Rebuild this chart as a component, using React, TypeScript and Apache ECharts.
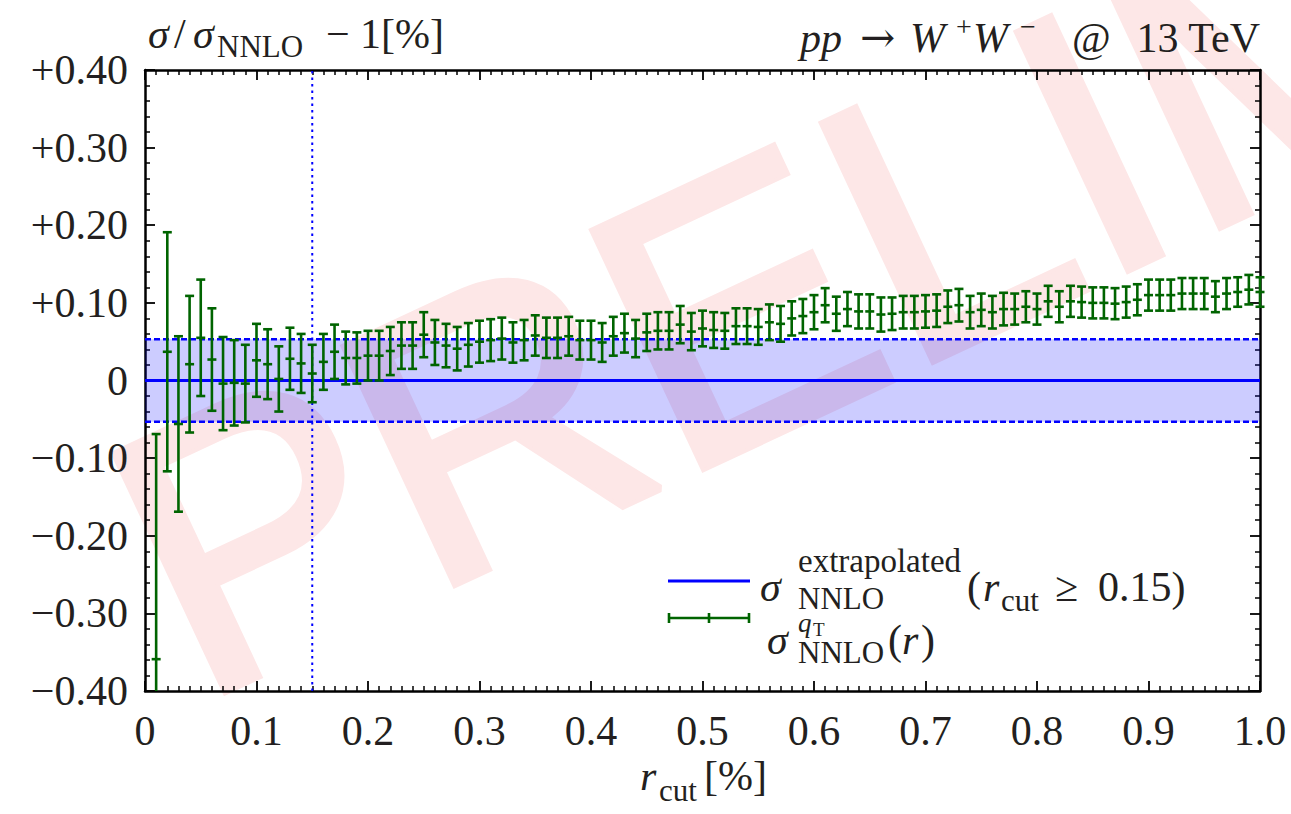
import React, { useEffect, useRef } from 'react';
import * as echarts from 'echarts';

// ---------- data ----------
const rCut = [
  0.01, 0.02, 0.03, 0.04, 0.05, 0.06, 0.07, 0.08, 0.09, 0.10,
  0.11, 0.12, 0.13, 0.14, 0.15, 0.16, 0.17, 0.18, 0.19, 0.20,
  0.21, 0.22, 0.23, 0.24, 0.25, 0.26, 0.27, 0.28, 0.29, 0.30,
  0.31, 0.32, 0.33, 0.34, 0.35, 0.36, 0.37, 0.38, 0.39, 0.40,
  0.41, 0.42, 0.43, 0.44, 0.45, 0.46, 0.47, 0.48, 0.49, 0.50,
  0.51, 0.52, 0.53, 0.54, 0.55, 0.56, 0.57, 0.58, 0.59, 0.60,
  0.61, 0.62, 0.63, 0.64, 0.65, 0.66, 0.67, 0.68, 0.69, 0.70,
  0.71, 0.72, 0.73, 0.74, 0.75, 0.76, 0.77, 0.78, 0.79, 0.80,
  0.81, 0.82, 0.83, 0.84, 0.85, 0.86, 0.87, 0.88, 0.89, 0.90,
  0.91, 0.92, 0.93, 0.94, 0.95, 0.96, 0.97, 0.98, 0.99, 1.00,
];

const deviation = [
  -0.359, 0.037, -0.056, 0.021, 0.055, 0.027, -0.004, -0.003, -0.004, 0.026,
  0.021, 0.002, 0.028, 0.022, 0.009, 0.024, 0.037, 0.029, 0.029, 0.032,
  0.032, 0.038, 0.045, 0.045, 0.059, 0.049, 0.045, 0.041, 0.046, 0.050,
  0.052, 0.054, 0.049, 0.052, 0.058, 0.055, 0.055, 0.057, 0.052, 0.052,
  0.049, 0.057, 0.061, 0.054, 0.062, 0.064, 0.064, 0.072, 0.063, 0.067,
  0.065, 0.064, 0.070, 0.070, 0.069, 0.075, 0.073, 0.080, 0.083, 0.088,
  0.097, 0.086, 0.092, 0.089, 0.089, 0.085, 0.086, 0.088, 0.088, 0.089,
  0.090, 0.095, 0.097, 0.088, 0.091, 0.088, 0.092, 0.092, 0.095, 0.092,
  0.102, 0.095, 0.102, 0.101, 0.100, 0.100, 0.099, 0.101, 0.104, 0.110,
  0.110, 0.110, 0.112, 0.112, 0.112, 0.108, 0.112, 0.114, 0.117, 0.114,
];

const mcError = [
  0.290, 0.154, 0.113, 0.088, 0.075, 0.066, 0.060, 0.055, 0.050, 0.047,
  0.045, 0.042, 0.040, 0.038, 0.037, 0.036, 0.035, 0.034, 0.033, 0.032,
  0.032, 0.031, 0.030, 0.030, 0.029, 0.029, 0.028, 0.028, 0.028, 0.027,
  0.027, 0.027, 0.026, 0.026, 0.026, 0.026, 0.026, 0.025, 0.025, 0.025,
  0.025, 0.025, 0.025, 0.024, 0.024, 0.024, 0.024, 0.024, 0.024, 0.023,
  0.023, 0.023, 0.023, 0.023, 0.023, 0.023, 0.023, 0.022, 0.022, 0.022,
  0.022, 0.022, 0.022, 0.022, 0.022, 0.022, 0.021, 0.021, 0.021, 0.021,
  0.021, 0.021, 0.021, 0.021, 0.021, 0.021, 0.021, 0.020, 0.020, 0.020,
  0.020, 0.020, 0.020, 0.020, 0.020, 0.020, 0.020, 0.020, 0.020, 0.020,
  0.020, 0.020, 0.020, 0.020, 0.020, 0.020, 0.020, 0.019, 0.019, 0.019,
];

const extrapolatedCentral = 0;
const extrapolatedError = 0.053;
const rCutFitMin = 0.15;
const xRange = [0, 1];
const yRange = [-0.4, 0.4];
const xTickStep = 0.1;
const yTickStep = 0.1;

// ---------- styles ----------
const SERIF = 'Liberation Serif';
const TXT = '#231f20';
const GREEN = '#006400';
const BLUE = '#0000ff';
const WM = '#fde7e7';

function txt(text: string, x: number, baseline: number, size: number, italic = false, align = 'left', family = SERIF) {
  return {
    type: 'text',
    x,
    y: baseline - 0.34 * size,
    z: 50,
    silent: true,
    style: {
      text,
      fontFamily: family,
      fontSize: size,
      fontStyle: italic ? 'italic' : 'normal',
      fill: TXT,
      align,
      verticalAlign: 'middle',
    },
  };
}

export default function App() {
  const ref = useRef<HTMLDivElement>(null);

  useEffect(() => {
    const chart = echarts.init(ref.current!, null, { renderer: 'svg' });

    const errData = rCut.map((r, i) => [r, deviation[i], mcError[i]]);

    const yFmt = (v: number) => {
      if (Math.abs(v) < 1e-9) return '0';
      return (v > 0 ? '+' : '\u2212') + Math.abs(v).toFixed(2);
    };
    const xFmt = (v: number) => (Math.abs(v) < 1e-9 ? '0' : v.toFixed(1));

    const baseX = {
      type: 'value',
      min: xRange[0],
      max: xRange[1],
      interval: xTickStep,
      axisLine: { show: true, onZero: false, lineStyle: { color: '#000', width: 2.5 } },
      axisTick: { show: true, inside: true, length: 10, lineStyle: { color: '#000', width: 1.8 } },
      minorTick: { show: true, splitNumber: 10, length: 5, lineStyle: { color: '#000', width: 1.5 } },
      splitLine: { show: false },
      minorSplitLine: { show: false },
    };
    const baseY = {
      type: 'value',
      min: yRange[0],
      max: yRange[1],
      interval: yTickStep,
      axisLine: { show: true, onZero: false, lineStyle: { color: '#000', width: 2.5 } },
      axisTick: { show: true, inside: true, length: 10, lineStyle: { color: '#000', width: 1.8 } },
      minorTick: { show: true, splitNumber: 5, length: 5, lineStyle: { color: '#000', width: 1.5 } },
      splitLine: { show: false },
      minorSplitLine: { show: false },
    };

    const option: any = {
      animation: false,
      grid: { left: 145, right: 31, top: 70, bottom: 123, containLabel: false },
      xAxis: [
        {
          ...baseX,
          position: 'bottom',
          axisLabel: { show: true, formatter: xFmt, fontFamily: SERIF, fontSize: 42, color: TXT, margin: 19 },
        },
        { ...baseX, position: 'top', axisLabel: { show: false } },
      ],
      yAxis: [
        {
          ...baseY,
          position: 'left',
          axisLabel: { show: true, formatter: yFmt, fontFamily: SERIF, fontSize: 42, color: TXT, margin: 17 },
        },
        { ...baseY, position: 'right', axisLabel: { show: false } },
      ],
      series: [
        {
          name: 'extrapolated',
          type: 'line',
          data: [[xRange[0], extrapolatedCentral], [xRange[1], extrapolatedCentral]],
          symbol: 'none',
          lineStyle: { color: BLUE, width: 3 },
          z: 3,
          markArea: {
            silent: true,
            itemStyle: { color: 'rgba(0,0,255,0.2)' },
            data: [[
              { yAxis: extrapolatedCentral - extrapolatedError },
              { yAxis: extrapolatedCentral + extrapolatedError },
            ]],
          },
        },
        {
          name: 'upper',
          type: 'line',
          data: [[xRange[0], extrapolatedCentral + extrapolatedError], [xRange[1], extrapolatedCentral + extrapolatedError]],
          symbol: 'none',
          lineStyle: { color: BLUE, width: 2.5, type: [6, 3] },
          z: 3,
        },
        {
          name: 'lower',
          type: 'line',
          data: [[xRange[0], extrapolatedCentral - extrapolatedError], [xRange[1], extrapolatedCentral - extrapolatedError]],
          symbol: 'none',
          lineStyle: { color: BLUE, width: 2.5, type: [6, 3] },
          z: 3,
        },
        {
          name: 'rcutmin',
          type: 'line',
          data: [[rCutFitMin, yRange[0]], [rCutFitMin, yRange[1]]],
          symbol: 'none',
          lineStyle: { color: BLUE, width: 2, type: [2.5, 4] },
          z: 3,
        },
        {
          name: 'qT',
          type: 'custom',
          z: 6,
          data: errData,
          renderItem: (params: any, api: any) => {
            const x = api.value(0);
            const y = api.value(1);
            const e = api.value(2);
            const hiV = Math.min(yRange[1], y + e);
            const loV = Math.max(yRange[0], y - e);
            const top = api.coord([x, hiV]);
            const bot = api.coord([x, loV]);
            const c = api.coord([x, y]);
            const hw = 4.5;
            const st = { stroke: GREEN, lineWidth: 2.6 };
            const children: any[] = [
              { type: 'line', shape: { x1: top[0], y1: top[1], x2: bot[0], y2: bot[1] }, style: st },
              { type: 'line', shape: { x1: c[0] - hw, y1: c[1], x2: c[0] + hw, y2: c[1] }, style: st },
            ];
            if (y + e <= yRange[1]) children.push({ type: 'line', shape: { x1: top[0] - hw, y1: top[1], x2: top[0] + hw, y2: top[1] }, style: st });
            if (y - e >= yRange[0]) children.push({ type: 'line', shape: { x1: bot[0] - hw, y1: bot[1], x2: bot[0] + hw, y2: bot[1] }, style: st });
            return { type: 'group', children };
          },
        },
      ],
      graphic: [
        // watermark (behind everything)
        {
          type: 'text',
          x: 142,
          y: 585,
          rotation: (25 * Math.PI) / 180,
          z: -10,
          silent: true,
          style: {
            text: 'PRELIMINARY',
            fontFamily: 'Liberation Sans',
            fontSize: 380,
            fill: WM,
            stroke: WM,
            lineWidth: 8,
            align: 'left',
            verticalAlign: 'middle',
          },
        },
        // top-left title
        txt('\u03c3', 148, 48, 42, true),
        txt('/', 174, 48, 42),
        txt('\u03c3', 193, 48, 42, true),
        txt('NNLO', 217, 57, 31),
        txt('\u2212', 326, 48, 42),
        txt('1[%]', 360, 48, 42),
        // top-right title
        txt('pp', 800, 52, 42, true),
        txt('\u2192', 860, 52, 42, false, 'left', 'DejaVu Serif'),
        txt('W', 910, 52, 42, true),
        txt('+', 956, 36, 28),
        txt('W', 973, 52, 42, true),
        txt('\u2212', 1020, 36, 28),
        txt('@', 1072, 52, 42),
        txt('13 TeV', 1260, 52, 42, false, 'right'),
        // x axis name
        txt('r', 640, 790, 42, true),
        txt('cut', 659, 801, 31),
        txt('[%]', 704, 790, 42),
        // legend
        { type: 'line', z: 50, shape: { x1: 668, y1: 581, x2: 750, y2: 581 }, style: { stroke: BLUE, lineWidth: 3 } },
        { type: 'line', z: 50, shape: { x1: 668, y1: 618, x2: 750, y2: 618 }, style: { stroke: GREEN, lineWidth: 2.6 } },
        { type: 'line', z: 50, shape: { x1: 669, y1: 613, x2: 669, y2: 623 }, style: { stroke: GREEN, lineWidth: 2.6 } },
        { type: 'line', z: 50, shape: { x1: 709, y1: 613, x2: 709, y2: 623 }, style: { stroke: GREEN, lineWidth: 2.6 } },
        { type: 'line', z: 50, shape: { x1: 749, y1: 613, x2: 749, y2: 623 }, style: { stroke: GREEN, lineWidth: 2.6 } },
        txt('\u03c3', 760, 601, 42, true),
        txt('extrapolated', 798, 572, 33),
        txt('NNLO', 798, 609, 31),
        txt('(', 967, 601, 42),
        txt('r', 983, 601, 42, true),
        txt('cut', 1001, 611, 31),
        txt('\u2265', 1055, 601, 42),
        txt('0.15)', 1098, 601, 42),
        txt('\u03c3', 767, 654, 42, true),
        txt('q', 798, 632, 27, true),
        txt('T', 813, 636, 19),
        txt('NNLO', 798, 663, 31),
        txt('(', 888, 654, 42),
        txt('r', 902, 654, 42, true),
        txt(')', 921, 654, 42),
      ],
    };

    chart.setOption(option);
    return () => chart.dispose();
  }, []);

  return <div ref={ref} style={{ position: 'absolute', left: 0, top: 0, width: 1291, height: 814 }} />;
}
